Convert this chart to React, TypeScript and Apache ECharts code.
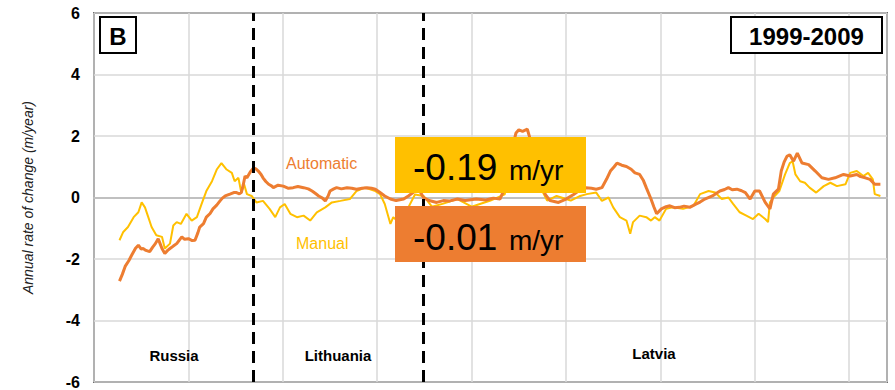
import React, { useEffect, useRef } from "react";
import * as echarts from "echarts";

// Automatic (orange) series: position along coast (arbitrary units) and rate (m/yr)
const autoX = [
  2.7, 3.0, 3.3, 3.7, 4.0, 4.4, 4.7, 5.0, 5.2, 5.5, 5.9, 6.2, 6.5, 6.8, 7.0, 7.2, 7.5, 7.8, 8.05, 8.4,
  8.76, 9.0, 9.3, 9.6, 10.0, 10.4, 10.7, 11.0, 11.2, 11.6, 11.9, 12.3, 12.6, 13.0, 13.35, 13.6, 13.9, 14.4, 14.8, 15.1,
  15.4, 15.6, 15.8, 16.0, 16.2, 16.6, 16.9, 17.2, 17.4, 17.7, 17.9, 18.2, 18.5, 18.8, 19.0, 19.5, 20.05, 20.6, 21.1, 21.6,
  22.2, 22.7, 23.1, 23.5, 23.8, 24.2, 24.5, 24.8, 25.0, 25.4, 25.7, 26.2, 26.8, 27.3, 27.8, 28.4, 28.9, 29.4, 29.8, 30.3,
  30.8, 31.4, 32.0, 32.8, 33.3, 33.8, 34.4, 34.9, 35.5, 36.3, 37.0, 37.7, 38.5, 39.3, 40.5, 41.5, 42.3, 43.0, 43.5, 43.9,
  44.3, 44.7, 45.0, 45.4, 45.9, 46.3, 46.8, 47.3, 47.8, 48.3, 49.2, 50.0, 50.8, 51.5, 52.1, 52.7, 53.2, 53.8, 54.3, 54.7,
  55.1, 55.4, 55.9, 56.4, 56.9, 57.3, 57.8, 58.2, 58.5, 59.0, 59.3, 59.6, 60.1, 60.6, 61.0, 61.5, 62.0, 62.5, 63.1, 63.8,
  64.2, 64.7, 65.5, 66.3, 66.8, 67.2, 67.6, 68.1, 68.6, 69.0, 69.5, 70.0, 70.5, 71.1, 71.6, 71.96, 72.5, 72.8, 73.1, 73.4,
  73.7, 74.1, 74.5, 75.0, 75.7, 76.4, 77.1, 77.8, 78.5, 79.4, 80.1, 80.8, 81.2, 81.7, 82.2, 82.7, 83.3,
];
const autoY = [
  -2.72, -2.5, -2.24, -2.05, -1.87, -1.65, -1.55, -1.68, -1.66, -1.72, -1.76, -1.62, -1.5, -1.34, -1.5, -1.66, -1.82, -1.72, -1.66, -1.58,
  -1.5, -1.4, -1.28, -1.36, -1.34, -1.4, -1.39, -1.15, -0.96, -0.85, -0.64, -0.52, -0.37, -0.25, -0.11, -0.02, 0.05, 0.11, 0.16, 0.16,
  0.12, 0.16, 0.4, 0.7, 0.64, 0.85, 0.96, 0.92, 0.86, 0.75, 0.64, 0.52, 0.43, 0.38, 0.32, 0.4, 0.37, 0.3, 0.32, 0.36,
  0.32, 0.28, 0.21, 0.12, 0.05, -0.02, -0.11, 0.05, 0.21, 0.28, 0.32, 0.28, 0.32, 0.3, 0.27, 0.3, 0.32, 0.3, 0.27, 0.16,
  0.05, -0.05, -0.1, -0.05, 0.05, 0.16, 0.27, 0.0, -0.1, -0.16, -0.1, -0.11, -0.05, -0.1, -0.05, -0.08, -0.02, -0.05, 0.3, 0.9,
  1.6, 2.1, 2.2, 2.15, 2.22, 1.8, 1.2, 0.6, 0.1, -0.1, -0.16, -0.05, 0.1, 0.25, 0.32, 0.3, 0.27, 0.32, 0.6, 0.86,
  1.0, 1.12, 1.05, 1.01, 0.92, 0.8, 0.75, 0.55, 0.32, -0.05, -0.3, -0.53, -0.37, -0.3, -0.27, -0.33, -0.32, -0.28, -0.32, -0.21,
  -0.15, -0.05, 0.05, 0.21, 0.26, 0.32, 0.25, 0.27, 0.22, 0.16, -0.05, 0.21, 0.21, -0.16, -0.37, 0.11, 0.27, 0.86, 1.15, 1.34,
  1.39, 1.18, 1.44, 1.12, 1.07, 0.86, 0.64, 0.59, 0.64, 0.75, 0.7, 0.75, 0.68, 0.64, 0.59, 0.43, 0.43,
];

// Manual (yellow) series
const manualX = [
  2.7, 3.1, 3.6, 4.2, 4.7, 5.05, 5.4, 5.75, 6.1, 6.6, 7.2, 7.5, 8.05, 8.4, 8.76, 9.2, 9.8, 10.35, 10.9, 11.4,
  11.9, 12.5, 13.0, 13.5, 14.05, 14.6, 14.9, 15.3, 15.6, 15.9, 16.2, 16.7, 17.2, 17.9, 18.6, 19.2, 19.7, 20.2, 20.8, 21.5,
  22.2, 22.9, 23.6, 24.5, 25.2, 26.1, 27.1, 27.8, 28.7, 29.8, 30.3, 30.8, 31.4, 31.7, 32.1, 33.0, 34.0, 34.9, 35.8, 37.0,
  38.5, 40.0, 42.0, 43.5, 44.0, 45.0, 46.0, 47.0, 48.0, 49.0, 50.5, 51.5, 52.2, 53.2, 53.8, 54.5, 55.0, 55.7, 56.4, 56.8,
  57.1, 57.8, 58.5, 59.0, 59.4, 59.9, 60.6, 61.3, 62.4, 63.5, 64.2, 65.1, 65.8, 66.5, 67.2, 67.7, 68.4, 69.1, 69.8, 70.4,
  71.1, 71.4, 71.6, 72.1, 72.6, 73.2, 73.7, 74.0, 74.3, 74.8, 75.3, 75.8, 76.5, 77.3, 78.0, 78.7, 79.6, 80.1, 80.8, 81.5,
  82.0, 82.5, 82.7, 83.3,
];
const manualY = [
  -1.39, -1.12, -0.96, -0.64, -0.48, -0.16, -0.32, -0.64, -0.96, -1.23, -1.28, -1.66, -1.5, -0.91, -0.8, -0.86, -0.53, -0.75, -0.64, -0.21,
  0.21, 0.53, 0.91, 1.12, 0.91, 0.8, 0.53, 0.64, 0.16, 0.43, 0.11, 0.05, -0.16, -0.11, -0.37, -0.64, -0.32, -0.21, -0.53, -0.64,
  -0.59, -0.75, -0.48, -0.32, -0.16, -0.11, -0.05, 0.21, 0.32, 0.21, 0.11, -0.21, -0.86, -0.64, -0.75, -0.5, 0.1, 0.05, -0.3, -0.2,
  -0.05, -0.3, -0.1, 0.1, 0.8, 1.5, 1.4, 0.5, -0.1, 0.05, -0.1, 0.05, 0.11, 0.16, -0.11, 0.0, -0.32, -0.64, -0.75, -1.18,
  -0.8, -0.59, -0.64, -0.75, -0.64, -0.75, -0.37, -0.32, -0.37, -0.27, 0.11, 0.21, 0.16, -0.05, 0.0, -0.21, -0.48, -0.59, -0.7, -0.53,
  -0.7, -0.8, -0.16, 0.05, 0.21, 0.75, 1.12, 1.18, 0.75, 0.53, 0.48, 0.32, 0.16, 0.37, 0.48, 0.37, 0.43, 0.8, 0.86, 0.7,
  0.8, 0.59, 0.11, 0.05,
];

const yTicks = { min: -6, max: 6, interval: 2 };
const borderPositions = [16.85, 34.85]; // dashed country borders
const autoRate = "-0.01";
const manualRate = "-0.19";

const ORANGE = "#ED7D31";
const YELLOW = "#FFC000";
const FONT = "'Liberation Sans', Arial, Helvetica, sans-serif";

export default function App() {
  const ref = useRef<HTMLDivElement>(null);
  useEffect(() => {
    if (!ref.current) return;
    const chart = echarts.init(ref.current, undefined, { renderer: "svg" });
    const autoData = autoX.map((x, i) => [x, autoY[i]]);
    const manualData = manualX.map((x, i) => [x, manualY[i]]);
    const txt = (text: string, x: number, y: number, size: number, opts: any = {}) => ({
      type: "text",
      z: 100,
      x,
      y,
      style: {
        text,
        fontSize: size,
        fontFamily: FONT,
        fontWeight: opts.weight || "normal",
        fill: opts.fill || "#000",
        align: opts.align || "center",
        verticalAlign: "middle",
      },
    });
    chart.setOption({
      animation: false,
      grid: {
        left: 94,
        top: 13,
        width: 793,
        height: 374,
        show: true,
        borderColor: "#000",
        borderWidth: 1.5,
        backgroundColor: "transparent",
      },
      xAxis: {
        type: "value",
        min: 0,
        max: 84,
        interval: 10,
        axisLabel: { show: false },
        axisTick: { show: false },
        axisLine: { show: true, onZero: true, lineStyle: { color: "#c0c0c0", width: 2 } },
        splitLine: { show: true, lineStyle: { color: "#d9d9d9", width: 1.5 } },
      },
      yAxis: {
        type: "value",
        min: yTicks.min,
        max: yTicks.max,
        interval: yTicks.interval,
        axisLine: { show: false },
        axisTick: { show: false },
        axisLabel: {
          fontSize: 16,
          fontWeight: "bold",
          color: "#000",
          fontFamily: FONT,
          margin: 14,
        },
        splitLine: { show: true, lineStyle: { color: "#d9d9d9", width: 1.5 } },
        name: "Annual rate of change (m/year)",
        nameLocation: "middle",
        nameGap: 59,
        nameTextStyle: {
          fontSize: 14,
          fontStyle: "italic",
          color: "#222",
          fontFamily: FONT,
        },
      },
      series: [
        {
          name: "Manual",
          type: "line",
          data: manualData,
          showSymbol: false,
          symbol: "none",
          lineStyle: { color: YELLOW, width: 2 },
          itemStyle: { color: YELLOW },
          z: 2,
        },
        {
          name: "Automatic",
          type: "line",
          data: autoData,
          showSymbol: false,
          symbol: "none",
          lineStyle: { color: ORANGE, width: 3 },
          itemStyle: { color: ORANGE },
          z: 3,
          markLine: {
            silent: true,
            symbol: "none",
            label: { show: false },
            lineStyle: { color: "#000", type: [12, 7], width: 3 },
            data: borderPositions.map((v) => ({ xAxis: v })),
          },
        },
      ],
      graphic: [
        { type: "rect", z: 100, shape: { x: 100, y: 17, width: 36, height: 36 }, style: { fill: "#fff", stroke: "#000", lineWidth: 2 } },
        txt("B", 118, 36, 24, { weight: "bold" }),
        { type: "rect", z: 100, shape: { x: 731, y: 17, width: 151, height: 36 }, style: { fill: "#fff", stroke: "#000", lineWidth: 2 } },
        txt("1999-2009", 806.5, 36, 24, { weight: "bold" }),
        { type: "rect", z: 100, shape: { x: 395, y: 137, width: 191, height: 56 }, style: { fill: YELLOW } },
        txt(manualRate, 413, 167, 37, { align: "left" }),
        txt("m/yr", 509, 170, 28, { align: "left" }),
        { type: "rect", z: 100, shape: { x: 395, y: 206, width: 191, height: 56 }, style: { fill: ORANGE } },
        txt(autoRate, 413, 237, 37, { align: "left" }),
        txt("m/yr", 509, 240, 28, { align: "left" }),
        txt("Automatic", 286, 163, 16, { align: "left", fill: ORANGE }),
        txt("Manual", 296, 243, 16, { align: "left", fill: YELLOW }),
        txt("Russia", 174, 355, 15, { weight: "bold" }),
        txt("Lithuania", 338, 355, 15, { weight: "bold" }),
        txt("Latvia", 654, 353, 15, { weight: "bold" }),
      ],
    });
    return () => chart.dispose();
  }, []);
  return (
    <div
      ref={ref}
      style={{ position: "absolute", left: 0, top: 0, width: 895, height: 390 }}
    />
  );
}
